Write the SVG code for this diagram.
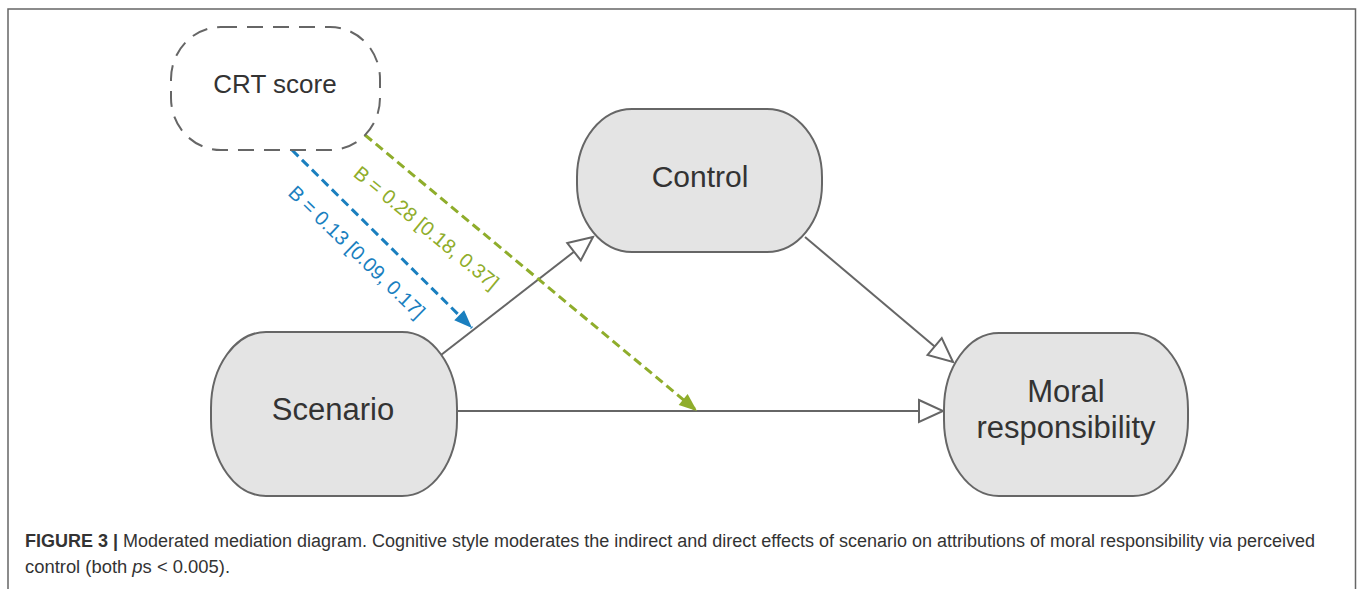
<svg xmlns="http://www.w3.org/2000/svg" width="1357" height="589" viewBox="0 0 1357 589">
<style>
.node{fill:#e4e4e4;stroke:#666;stroke-width:2}
.lbl{font-family:"Liberation Sans",Arial,sans-serif;fill:#333;text-anchor:middle}
.conn{stroke:#666;stroke-width:2;fill:none}
.blue{stroke:#1a7fbf;stroke-width:3;stroke-dasharray:9 5;fill:none}
.green{stroke:#8fad2b;stroke-width:3;stroke-dasharray:9 5;fill:none}
.cap{font-family:"Liberation Sans",Arial,sans-serif;font-size:18px;fill:#333}
</style>
<defs>
<marker id="hollow" markerUnits="userSpaceOnUse" markerWidth="28" markerHeight="26" refX="24" refY="11" orient="auto" overflow="visible">
<path d="M0,0 L24,11 L0,22 Z" fill="#fff" stroke="#666" stroke-width="2"/>
</marker>
<marker id="mblue" markerUnits="userSpaceOnUse" markerWidth="20" markerHeight="16" refX="18" refY="7" orient="auto" overflow="visible">
<path d="M0,0 L18,7 L0,14 Z" fill="#1a7fbf"/>
</marker>
<marker id="mgreen" markerUnits="userSpaceOnUse" markerWidth="20" markerHeight="16" refX="18" refY="7" orient="auto" overflow="visible">
<path d="M0,0 L18,7 L0,14 Z" fill="#8fad2b"/>
</marker>
</defs>
<rect width="1357" height="589" fill="#fff"/>
<path d="M8,589 V9 H1355.5 V589" fill="none" stroke="#666" stroke-width="1.5"/>

<g id="connectors">
<line class="conn" x1="441" y1="355" x2="593" y2="237" marker-end="url(#hollow)"/>
<line class="conn" x1="805" y1="237" x2="953" y2="362" marker-end="url(#hollow)"/>
<line class="conn" x1="453" y1="411" x2="943" y2="411" marker-end="url(#hollow)"/>
<line class="blue" x1="292" y1="150" x2="472" y2="328" marker-end="url(#mblue)"/>
<line class="green" x1="365" y1="135" x2="697" y2="411" marker-end="url(#mgreen)"/>
<text class="lbl" x="352" y="257" font-size="20" style="fill:#1a7fbf" transform="rotate(44 352 257)">B = 0.13 [0.09, 0.17]</text>
<text class="lbl" x="422" y="233" font-size="20" style="fill:#8fad2b" transform="rotate(39.5 422 233)">B = 0.28 [0.18, 0.37]</text>
</g>

<g id="crt">
<rect x="171" y="27" width="209" height="123" rx="50" ry="52" fill="#fff" stroke="#666" stroke-width="2" stroke-dasharray="16 10"/>
<text class="lbl" x="275" y="93" font-size="26">CRT score</text>
</g>
<g id="control">
<rect class="node" x="577" y="109" width="245" height="143" rx="55" ry="68"/>
<text class="lbl" x="700" y="187" font-size="30">Control</text>
</g>
<g id="scenario">
<rect class="node" x="211" y="332" width="246" height="164" rx="55" ry="76"/>
<text class="lbl" x="333" y="420" font-size="31">Scenario</text>
</g>
<g id="moral">
<rect class="node" x="944" y="333" width="244" height="163" rx="55" ry="76"/>
<text class="lbl" x="1066" y="402" font-size="31">Moral</text>
<text class="lbl" x="1066" y="438" font-size="31">responsibility</text>
</g>

<g id="caption">
<text class="cap" x="25" y="547" textLength="1290" lengthAdjust="spacingAndGlyphs"><tspan font-weight="bold">FIGURE 3 |</tspan> Moderated mediation diagram. Cognitive style moderates the indirect and direct effects of scenario on attributions of moral responsibility via perceived</text>
<text class="cap" x="25" y="573" textLength="205" lengthAdjust="spacingAndGlyphs">control (both <tspan font-style="italic">p</tspan>s &lt; 0.005).</text>
</g>
</svg>
